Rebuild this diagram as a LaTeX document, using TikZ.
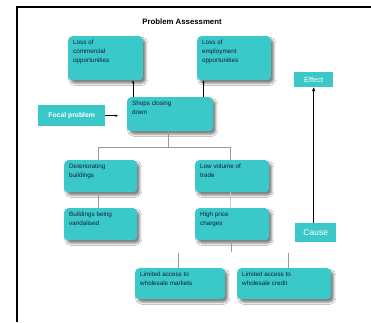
\documentclass[tikz,border=0pt]{standalone}
\usepackage{fontspec}
\setmainfont{Liberation Sans}
\usetikzlibrary{shadows.blur,arrows.meta}
\definecolor{tealbox}{RGB}{58,200,200}
\definecolor{boxtext}{RGB}{20,30,60}
\newcommand{\bt}[3]{\parbox[c][#2pt][t]{#1pt}{\raggedright #3}}
\tikzset{
  x=1pt,y=-1pt,
  cbox/.style={fill=tealbox, rounded corners=4pt, inner xsep=5pt, inner ysep=4pt,
    anchor=north west, text=boxtext, font=\fontsize{6.3}{9}\selectfont,
    blur shadow={shadow xshift=2.5pt, shadow yshift=-3pt, shadow blur steps=5, shadow opacity=50}},
  sbox/.style={fill=tealbox, anchor=north west, text=white, inner sep=0pt},
  tline/.style={draw=gray!80, line width=0.6pt},
  arr/.style={draw=black, line width=0.6pt, -{Stealth[length=3pt,width=2.4pt]}},
  bigarr/.style={draw=black, line width=1.5pt, -{Stealth[length=4pt,width=3.5pt]}},
}
\begin{document}
\begin{tikzpicture}
\useasboundingbox (0,0) rectangle (371,322);
\fill[white] (0,0) rectangle (371,322);
% frame
\draw[line width=1.4pt] (17,322) -- (17,7) -- (375,7);
% title
\node[font=\fontsize{7.8}{9}\selectfont\bfseries] (title) at (182,22) {Problem Assessment};
% boxes
\node[cbox] (com) at (68,36) {\bt{65}{36}{Loss of\\commercial\\opportunities}};
\node[cbox] (emp) at (197,36) {\bt{64}{36}{Loss of\\employment\\opportunities}};
\node[cbox] (shops) at (127,97) {\bt{76}{26}{Shops closing\\down}};
\node[cbox] (det) at (64,160) {\bt{63}{24}{Deteriorating\\buildings}};
\node[cbox] (low) at (195,160) {\bt{64}{24}{Low volume of\\trade}};
\node[cbox] (bld) at (64,208) {\bt{63}{24}{Buildings being\\vandalised}};
\node[cbox] (high) at (195,208) {\bt{64}{24}{High price\\charges}};
\node[cbox] (lim1) at (135,268) {\bt{80}{23}{Limited access to\\wholesale markets}};
\node[cbox] (lim2) at (237,268) {\bt{84}{23}{Limited access to\\wholesale credit}};
% small boxes
\node[sbox, minimum width=67pt, minimum height=21pt, font=\fontsize{6.8}{8}\selectfont\bfseries] (focal) at (38,105) {Focal problem};
\node[sbox, minimum width=39pt, minimum height=15pt, font=\fontsize{7.5}{9}\selectfont] (effect) at (294,72) {Effect};
\node[sbox, minimum width=41pt, minimum height=19pt, font=\fontsize{8.5}{10}\selectfont] (cause) at (295,223) {Cause};
% connectors
\draw[arr] ([xshift=6pt]shops.north west) -- ([xshift=6pt]shops.north west |- com.south);
\draw[arr] ([xshift=-10pt]shops.north east) -- ([xshift=-10pt]shops.north east |- emp.south);
\draw[arr, shorten >=9pt] (focal.east) -- (focal.east -| shops.west);
\draw[tline] ([xshift=-2pt]shops.south) -- ++(0,16) coordinate (split);
\draw[tline] ([xshift=-2pt]det.north) |- (split) -| ([xshift=-2pt]low.north);
\draw[tline] ([xshift=-2pt]det.south) -- ([xshift=-2pt]bld.north);
\draw[draw=gray!40, line width=0.6pt] ([xshift=-2pt]low.south) -- ([xshift=-2pt]high.north);
\draw[tline] ([xshift=-1pt]high.south) -- ++(0,12) coordinate (hs);
\draw[tline] ([xshift=-2pt]lim1.north) -- ++(0,-15) coordinate (l1s);
\draw[tline] ([xshift=4pt]lim2.north) -- ++(0,-15) coordinate (l2s);
\draw[bigarr] (cause.north -| effect.south) -- (effect.south);
\end{tikzpicture}
\end{document}
